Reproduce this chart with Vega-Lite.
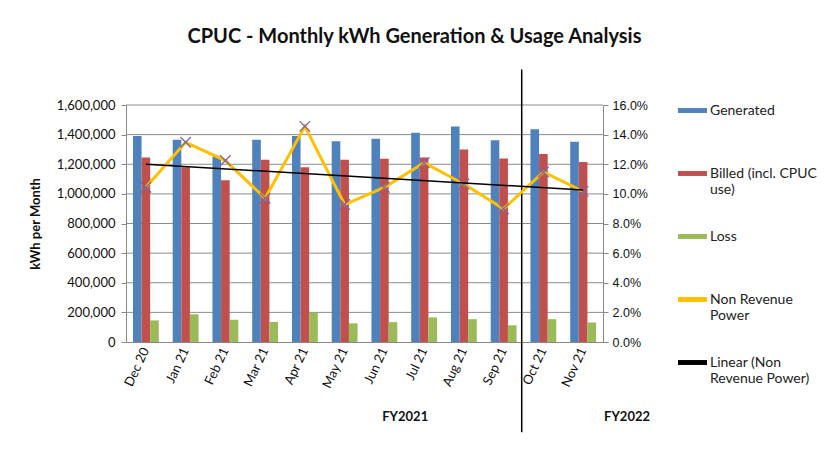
{
  "$schema": "https://vega.github.io/schema/vega-lite/v6.json",
  "autosize": {"type": "none"},
  "width": 477,
  "height": 237,
  "padding": {"left": 126, "top": 105, "right": 222, "bottom": 120},
  "background": "white",
  "title": {"text": "CPUC - Monthly kWh Generation & Usage Analysis", "font": "Lato", "fontSize": 20, "fontWeight": "bold", "color": "#111", "anchor": "middle", "dx": 50, "offset": 22},
  "config": {
    "view": {"stroke": null},
    "axis": {"domainColor": "#888", "tickColor": "#888", "labelColor": "#111", "titleColor": "#111"}
  },
  "datasets": {
    "grid": [{"g": 200000}, {"g": 400000}, {"g": 600000}, {"g": 800000}, {"g": 1000000}, {"g": 1200000}, {"g": 1400000}, {"g": 1600000}]
  },
  "data": {"values": [
    {"month": "Dec 20", "Generated": 1390000, "Billed": 1245000, "Loss": 146000, "nrp": 0.1045, "trend": 0.1200},
    {"month": "Jan 21", "Generated": 1366000, "Billed": 1180000, "Loss": 187000, "nrp": 0.1348, "trend": null},
    {"month": "Feb 21", "Generated": 1250000, "Billed": 1092000, "Loss": 150000, "nrp": 0.1225, "trend": null},
    {"month": "Mar 21", "Generated": 1366000, "Billed": 1231000, "Loss": 135000, "nrp": 0.0970, "trend": null},
    {"month": "Apr 21", "Generated": 1390000, "Billed": 1180000, "Loss": 198000, "nrp": 0.1456, "trend": null},
    {"month": "May 21", "Generated": 1355000, "Billed": 1231000, "Loss": 126000, "nrp": 0.0928, "trend": null},
    {"month": "Jun 21", "Generated": 1372000, "Billed": 1237000, "Loss": 134000, "nrp": 0.1044, "trend": null},
    {"month": "Jul 21", "Generated": 1412000, "Billed": 1246000, "Loss": 166000, "nrp": 0.1210, "trend": null},
    {"month": "Aug 21", "Generated": 1455000, "Billed": 1300000, "Loss": 154000, "nrp": 0.1067, "trend": null},
    {"month": "Sep 21", "Generated": 1362000, "Billed": 1238000, "Loss": 113000, "nrp": 0.0899, "trend": null},
    {"month": "Oct 21", "Generated": 1436000, "Billed": 1270000, "Loss": 154000, "nrp": 0.1148, "trend": null},
    {"month": "Nov 21", "Generated": 1352000, "Billed": 1216000, "Loss": 132000, "nrp": 0.1017, "trend": 0.1026}
  ]},
  "layer": [
    {
      "layer": [
        {
          "data": {"name": "grid"},
          "mark": {"type": "rule", "color": "#8c8c8c", "strokeWidth": 1},
          "encoding": {
            "x": {"datum": "Dec 20", "bandPosition": -0.2694},
            "x2": {"datum": "Nov 21", "bandPosition": 1.2694},
            "y": {"field": "g", "type": "quantitative", "scale": {"domain": [0, 1600000], "nice": false},
              "axis": {"values": [0, 200000, 400000, 600000, 800000, 1000000, 1200000, 1400000, 1600000], "labelOverlap": false, "format": ",d", "grid": false, "tickSize": 5, "labelFont": "Lato", "labelFontSize": 13, "labelPadding": 6, "title": "kWh per Month", "titleFont": "Lato", "titleFontSize": 13, "titleFontWeight": "bold", "titlePadding": 14}}
          }
        },
        {
          "transform": [{"fold": ["Generated", "Billed", "Loss"], "as": ["series", "kwh"]}],
          "mark": {"type": "bar"},
          "encoding": {
            "x": {"field": "month", "type": "nominal", "sort": null,
              "scale": {"domain": ["Dec 20", "Jan 21", "Feb 21", "Mar 21", "Apr 21", "May 21", "Jun 21", "Jul 21", "Aug 21", "Sep 21", "Oct 21", "Nov 21"], "paddingInner": 0.35, "paddingOuter": 0.175},
              "axis": {"title": null, "labelAngle": -65, "labelAlign": "right", "labelBaseline": "middle", "labelFont": "Lato", "labelFontSize": 13, "ticks": false, "labelPadding": 6}},
            "xOffset": {"field": "series", "type": "nominal", "scale": {"domain": ["Generated", "Billed", "Loss"], "paddingInner": 0}},
            "y": {"field": "kwh", "type": "quantitative",
              "axis": {"values": [0, 200000, 400000, 600000, 800000, 1000000, 1200000, 1400000, 1600000], "labelOverlap": false, "format": ",d", "grid": false, "tickSize": 5, "labelFont": "Lato", "labelFontSize": 13, "labelPadding": 6, "title": "kWh per Month", "titleFont": "Lato", "titleFontSize": 13, "titleFontWeight": "bold", "titlePadding": 14}},
            "color": {"field": "series", "type": "nominal",
              "scale": {"domain": ["Generated", "Billed", "Loss", "NRP", "Linear"], "range": ["#4F81BD", "#C0504D", "#9BBB59", "#FFC000", "#000000"]},
              "legend": {"orient": "none", "legendX": 552, "legendY": -9, "title": null, "symbolType": "M-1,-0.17H1V0.17H-1Z", "symbolSize": 841, "symbolStrokeWidth": 0, "labelFont": "Lato", "labelFontSize": 14, "labelColor": "#222", "rowPadding": 25, "labelOffset": 3, "labelLimit": 200,
                "labelExpr": "datum.value == 'Billed' ? ['Billed (incl. CPUC', 'use)'] : datum.value == 'NRP' ? ['Non Revenue', 'Power'] : datum.value == 'Linear' ? ['Linear  (Non', 'Revenue Power)'] : [datum.value, '']"}}
          }
        },
        {
          "data": {"values": [{"k": 1}]},
          "mark": {"type": "rule", "color": "#000", "strokeWidth": 1.5},
          "encoding": {
            "x": {"datum": "Sep 21", "bandPosition": 1.2},
            "y": {"datum": 1840000, "axis": {"values": [0, 200000, 400000, 600000, 800000, 1000000, 1200000, 1400000, 1600000], "labelOverlap": false, "format": ",d", "grid": false, "tickSize": 5, "labelFont": "Lato", "labelFontSize": 13, "labelPadding": 6, "title": "kWh per Month", "titleFont": "Lato", "titleFontSize": 13, "titleFontWeight": "bold", "titlePadding": 14}},
            "y2": {"datum": -610000}
          }
        },
        {
          "data": {"values": [{"k": 1}]},
          "mark": {"type": "text", "font": "Lato", "fontSize": 13, "fontWeight": "bold", "color": "#111", "dx": -6},
          "encoding": {
            "x": {"datum": "Jul 21", "bandPosition": 0},
            "y": {"datum": -506000, "axis": {"values": [0, 200000, 400000, 600000, 800000, 1000000, 1200000, 1400000, 1600000], "labelOverlap": false, "format": ",d", "grid": false, "tickSize": 5, "labelFont": "Lato", "labelFontSize": 13, "labelPadding": 6, "title": "kWh per Month", "titleFont": "Lato", "titleFontSize": 13, "titleFontWeight": "bold", "titlePadding": 14}},
            "text": {"value": "FY2021"}
          }
        },
        {
          "data": {"values": [{"k": 1}]},
          "mark": {"type": "text", "font": "Lato", "fontSize": 13, "fontWeight": "bold", "color": "#111", "dx": 31},
          "encoding": {
            "x": {"datum": "Nov 21", "bandPosition": 1},
            "y": {"datum": -506000, "axis": {"values": [0, 200000, 400000, 600000, 800000, 1000000, 1200000, 1400000, 1600000], "labelOverlap": false, "format": ",d", "grid": false, "tickSize": 5, "labelFont": "Lato", "labelFontSize": 13, "labelPadding": 6, "title": "kWh per Month", "titleFont": "Lato", "titleFontSize": 13, "titleFontWeight": "bold", "titlePadding": 14}},
            "text": {"value": "FY2022"}
          }
        }
      ]
    },
    {
      "layer": [
        {
          "mark": {"type": "line", "color": "#FFC000", "strokeWidth": 3},
          "encoding": {
            "x": {"field": "month", "type": "nominal", "sort": null},
            "y": {"field": "nrp", "type": "quantitative",
              "scale": {"domain": [0, 0.16], "nice": false},
              "axis": {"orient": "right", "values": [0, 0.02, 0.04, 0.06, 0.08, 0.1, 0.12, 0.14, 0.16], "labelOverlap": false, "format": ".1%", "grid": false, "tickSize": 5, "labelFont": "Liberation Sans", "labelFontSize": 12.5, "labelPadding": 4, "title": null}}
          }
        },
        {
          "mark": {"type": "point", "shape": "M-1,-1L1,1M-1,1L1,-1", "filled": false, "color": "#8064A2", "strokeWidth": 1.3, "size": 110, "opacity": 1},
          "encoding": {
            "x": {"field": "month", "type": "nominal", "sort": null},
            "y": {"field": "nrp", "type": "quantitative", "axis": {"orient": "right", "values": [0, 0.02, 0.04, 0.06, 0.08, 0.1, 0.12, 0.14, 0.16], "labelOverlap": false, "format": ".1%", "grid": false, "tickSize": 5, "labelFont": "Liberation Sans", "labelFontSize": 12.5, "labelPadding": 4, "title": null}}
          }
        },
        {
          "transform": [{"filter": "isValid(datum.trend)"}],
          "mark": {"type": "line", "color": "#000", "strokeWidth": 1.5},
          "encoding": {
            "x": {"field": "month", "type": "nominal", "sort": null},
            "y": {"field": "trend", "type": "quantitative", "axis": {"orient": "right", "values": [0, 0.02, 0.04, 0.06, 0.08, 0.1, 0.12, 0.14, 0.16], "labelOverlap": false, "format": ".1%", "grid": false, "tickSize": 5, "labelFont": "Liberation Sans", "labelFontSize": 12.5, "labelPadding": 4, "title": null}}
          }
        }
      ]
    }
  ],
  "resolve": {"scale": {"y": "independent"}}
}
